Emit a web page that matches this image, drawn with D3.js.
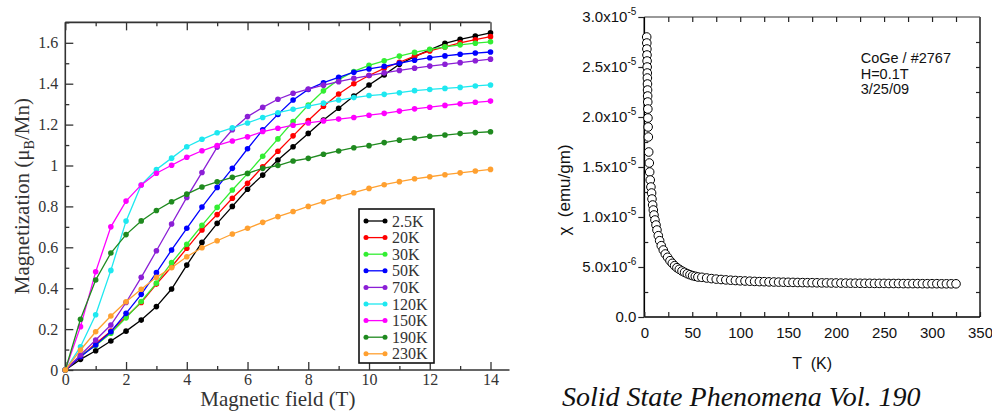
<!DOCTYPE html>
<html>
<head>
<meta charset="utf-8">
<script src="https://cdn.jsdelivr.net/npm/d3@7"></script>
<style>
  body { margin: 0; background: #fff; }
  svg { display: block; }
</style>
</head>
<body>
<svg id="chart"></svg>
<script>
'use strict';

// ---- left panel data: magnetization vs field ----
var fieldSteps = [0, 0.5, 1, 1.5, 2, 2.5, 3, 3.5, 4, 4.5, 5, 5.5, 6, 6.5, 7, 7.5, 8, 8.5, 9, 9.5, 10, 10.5, 11, 11.5, 12, 12.5, 13, 13.5, 14];
var tempLabels = ['2.5K', '20K', '30K', '50K', '70K', '120K', '150K', '190K', '230K'];
var tempColors = ['#000000', '#ff0000', '#33ee33', '#0000ff', '#8b1fd6', '#1ee8f0', '#ff00ff', '#1f8a1f', '#ffa030'];

var m2p5K = [0, 0.052, 0.094, 0.142, 0.19, 0.244, 0.31, 0.396, 0.513, 0.624, 0.717, 0.80, 0.884, 0.953, 1.027, 1.092, 1.157, 1.222, 1.28, 1.34, 1.394, 1.443, 1.495, 1.532, 1.565, 1.597, 1.617, 1.633, 1.649];
var m20K  = [0, 0.065, 0.13, 0.19, 0.26, 0.33, 0.42, 0.505, 0.595, 0.685, 0.76, 0.84, 0.913, 0.994, 1.07, 1.145, 1.22, 1.29, 1.35, 1.40, 1.44, 1.475, 1.505, 1.535, 1.56, 1.58, 1.60, 1.615, 1.63];
var m30K  = [0, 0.07, 0.12, 0.18, 0.255, 0.335, 0.425, 0.525, 0.615, 0.707, 0.795, 0.88, 0.96, 1.045, 1.13, 1.215, 1.295, 1.365, 1.42, 1.46, 1.49, 1.512, 1.535, 1.553, 1.568, 1.58, 1.59, 1.598, 1.605];
var m50K  = [0, 0.065, 0.122, 0.187, 0.277, 0.37, 0.476, 0.587, 0.693, 0.797, 0.893, 0.986, 1.082, 1.174, 1.25, 1.32, 1.372, 1.405, 1.431, 1.456, 1.472, 1.485, 1.50, 1.515, 1.527, 1.536, 1.544, 1.55, 1.555];
var m70K  = [0, 0.073, 0.147, 0.22, 0.33, 0.453, 0.583, 0.714, 0.844, 0.966, 1.09, 1.175, 1.239, 1.284, 1.324, 1.353, 1.374, 1.393, 1.41, 1.426, 1.44, 1.453, 1.465, 1.476, 1.486, 1.495, 1.503, 1.512, 1.52];
var m120K = [0, 0.114, 0.27, 0.487, 0.728, 0.905, 0.98, 1.036, 1.092, 1.128, 1.16, 1.184, 1.208, 1.235, 1.258, 1.275, 1.29, 1.305, 1.32, 1.332, 1.342, 1.348, 1.356, 1.366, 1.372, 1.377, 1.382, 1.389, 1.394];
var m150K = [0, 0.212, 0.48, 0.70, 0.826, 0.905, 0.962, 1.001, 1.04, 1.072, 1.098, 1.12, 1.14, 1.166, 1.182, 1.197, 1.208, 1.218, 1.227, 1.235, 1.246, 1.255, 1.266, 1.277, 1.285, 1.294, 1.302, 1.309, 1.315];
var m190K = [0, 0.248, 0.44, 0.572, 0.662, 0.729, 0.78, 0.823, 0.86, 0.895, 0.92, 0.942, 0.962, 0.986, 1.0, 1.022, 1.035, 1.055, 1.071, 1.087, 1.097, 1.112, 1.124, 1.133, 1.143, 1.149, 1.156, 1.161, 1.165];
var m230K = [0, 0.098, 0.187, 0.264, 0.334, 0.395, 0.453, 0.50, 0.554, 0.598, 0.632, 0.665, 0.693, 0.722, 0.75, 0.775, 0.80, 0.823, 0.847, 0.867, 0.888, 0.906, 0.921, 0.935, 0.945, 0.955, 0.964, 0.973, 0.981];
var magSeries = [m2p5K, m20K, m30K, m50K, m70K, m120K, m150K, m190K, m230K];

var fieldTicks = [0, 2, 4, 6, 8, 10, 12, 14];
var fieldMinor = [1, 3, 5, 7, 9, 11, 13];
var magTicks = [0, 0.2, 0.4, 0.6, 0.8, 1, 1.2, 1.4, 1.6];
var magTickLabels = ['0', '0.2', '0.4', '0.6', '0.8', '1', '1.2', '1.4', '1.6'];
var magMinor = [0.1, 0.3, 0.5, 0.7, 0.9, 1.1, 1.3, 1.5, 1.7];

// ---- right panel data: susceptibility vs temperature ----
var chiTemp = [2.5, 2.6, 2.7, 2.8, 2.9, 3.0, 3.1, 3.2, 3.3, 3.4, 3.5, 3.6, 3.7, 3.8, 4.0, 4.2, 4.6, 5.2, 5.6, 6.2, 6.9, 7.6, 8.0, 8.7, 9.4, 10.1, 11.1, 12.2, 13.2, 14.6, 16, 17.7, 19.8, 21.9, 24.3, 26.8, 29.2, 31.6, 34, 36.5, 39.3, 42, 44.8, 47.6, 50.4, 53.2, 55.9,
  60, 65, 70, 75, 80, 85, 90, 95, 100, 105, 110, 115, 120, 125, 130, 135, 140, 145, 150, 155, 160, 165, 170, 175, 180, 185, 190, 195, 200, 205, 210, 215, 220, 225, 230, 235, 240, 245, 250, 255, 260, 265, 270, 275, 280, 285, 290, 295, 300, 305, 310, 315, 320, 325];
var chiValue = [2.80e-5, 2.74e-5, 2.68e-5, 2.62e-5, 2.56e-5, 2.50e-5, 2.44e-5, 2.39e-5, 2.33e-5, 2.27e-5, 2.21e-5, 2.15e-5, 2.08e-5, 1.99e-5, 1.90e-5, 1.80e-5, 1.65e-5, 1.54e-5, 1.45e-5, 1.37e-5, 1.30e-5, 1.24e-5, 1.18e-5, 1.12e-5, 1.07e-5, 1.02e-5, 9.7e-6, 9.2e-6, 8.7e-6, 8.13e-6, 7.63e-6, 7.13e-6, 6.7e-6, 6.3e-6, 5.97e-6, 5.63e-6, 5.37e-6, 5.13e-6, 4.93e-6, 4.77e-6, 4.6e-6, 4.47e-6, 4.33e-6, 4.23e-6, 4.13e-6, 4.07e-6, 4.0e-6,
  3.97e-6, 3.90e-6, 3.84e-6, 3.79e-6, 3.75e-6, 3.71e-6, 3.68e-6, 3.65e-6, 3.62e-6, 3.60e-6, 3.58e-6, 3.56e-6, 3.54e-6, 3.53e-6, 3.51e-6, 3.50e-6, 3.49e-6, 3.48e-6, 3.47e-6, 3.46e-6, 3.45e-6, 3.44e-6, 3.43e-6, 3.43e-6, 3.42e-6, 3.41e-6, 3.41e-6, 3.40e-6, 3.40e-6, 3.39e-6, 3.39e-6, 3.38e-6, 3.38e-6, 3.37e-6, 3.37e-6, 3.37e-6, 3.36e-6, 3.36e-6, 3.36e-6, 3.35e-6, 3.35e-6, 3.35e-6, 3.34e-6, 3.34e-6, 3.34e-6, 3.34e-6, 3.33e-6, 3.33e-6, 3.33e-6, 3.33e-6, 3.32e-6, 3.32e-6, 3.32e-6, 3.32e-6];

var tempTicks = [0, 25, 50, 75, 100, 125, 150, 175, 200, 225, 250, 275, 300, 325, 350];
var chiTicks = [0, 5e-6, 1e-5, 1.5e-5, 2e-5, 2.5e-5, 3e-5];
var chiTickMant = ['0.0', '5.0x10', '1.0x10', '1.5x10', '2.0x10', '2.5x10', '3.0x10'];
var chiTickExp = ['', '-6', '-5', '-5', '-5', '-5', '-5'];
var chiMinor = [2.5e-6, 7.5e-6, 1.25e-5, 1.75e-5, 2.25e-5, 2.75e-5];
var noteLines = ['CoGe / #2767', 'H=0.1T', '3/25/09'];

var serif = '"Liberation Serif", "Times New Roman", serif';
var sans = '"Liberation Sans", Arial, sans-serif';

var svg = d3.select('#chart').attr('width', 992).attr('height', 411);

// ================= left panel =================
var xL = d3.scaleLinear().domain([0, 14]).range([65.3, 490.5]);
var yL = d3.scaleLinear().domain([0, 1.7]).range([370, 22.35]);
var axisCol = '#333';

function styleTicks(g, font, size) {
  g.select('.domain').remove();
  g.selectAll('line').attr('stroke', axisCol).attr('stroke-width', 1.3);
  g.attr('font-family', font).attr('font-size', size);
  g.selectAll('text').attr('fill', '#333');
}

var left = svg.append('g');

// frame
left.append('line')
  .attr('x1', xL(0)).attr('x2', xL(14) + 19).attr('y1', yL(0)).attr('y2', yL(0))
  .attr('stroke', axisCol).attr('stroke-width', 1.6);
left.append('line')
  .attr('x1', xL(0)).attr('x2', xL(14)).attr('y1', yL(1.7)).attr('y2', yL(1.7))
  .attr('stroke', axisCol).attr('stroke-width', 1.6);
left.append('line')
  .attr('x1', xL(0)).attr('x2', xL(0)).attr('y1', yL(0)).attr('y2', yL(1.7))
  .attr('stroke', axisCol).attr('stroke-width', 1.6);

left.append('g').attr('transform', 'translate(0,' + yL(0) + ')')
  .call(d3.axisBottom(xL).tickValues(fieldTicks).tickFormat(d3.format('d'))
    .tickSizeInner(-8).tickSizeOuter(0).tickPadding(4))
  .call(function(g) { styleTicks(g, serif, 16); });
left.append('g').attr('transform', 'translate(0,' + yL(0) + ')')
  .call(d3.axisBottom(xL).tickValues(fieldMinor).tickFormat('').tickSizeInner(-4).tickSizeOuter(0))
  .call(function(g) { styleTicks(g, serif, 16); });
left.append('g').attr('transform', 'translate(0,' + yL(1.7) + ')')
  .call(d3.axisTop(xL).tickValues(fieldTicks).tickFormat('').tickSizeInner(-8).tickSizeOuter(0))
  .call(function(g) { styleTicks(g, serif, 16); });
left.append('g').attr('transform', 'translate(0,' + yL(1.7) + ')')
  .call(d3.axisTop(xL).tickValues(fieldMinor).tickFormat('').tickSizeInner(-4).tickSizeOuter(0))
  .call(function(g) { styleTicks(g, serif, 16); });
left.append('g').attr('transform', 'translate(' + xL(0) + ',0)')
  .call(d3.axisLeft(yL).tickValues(magTicks).tickFormat(function(d, i) { return magTickLabels[i]; })
    .tickSizeInner(-8).tickSizeOuter(0).tickPadding(7))
  .call(function(g) { styleTicks(g, serif, 16); });
left.append('g').attr('transform', 'translate(' + xL(0) + ',0)')
  .call(d3.axisLeft(yL).tickValues(magMinor).tickFormat('').tickSizeInner(-4).tickSizeOuter(0))
  .call(function(g) { styleTicks(g, serif, 16); });

// axis titles
left.append('text')
  .attr('x', (xL(0) + xL(14)) / 2).attr('y', 406)
  .attr('text-anchor', 'middle').attr('font-family', serif).attr('font-size', 21).attr('fill', '#333')
  .text('Magnetic field (T)');
var yTitle = left.append('text')
  .attr('transform', 'translate(29,' + yL(0.85) + ') rotate(-90)')
  .attr('text-anchor', 'middle').attr('font-family', serif).attr('font-size', 21).attr('fill', '#333');
yTitle.append('tspan').text('Magnetization (\u03bc');
yTitle.append('tspan').attr('font-size', 14).attr('dy', 5).text('B');
yTitle.append('tspan').attr('dy', -5).text('/Mn)');

// curves
var line = d3.line()
  .x(function(d, i) { return xL(fieldSteps[i]); })
  .y(function(d) { return yL(d); });

magSeries.forEach(function(series, k) {
  var g = left.append('g');
  g.append('path').datum(series)
    .attr('d', line).attr('fill', 'none')
    .attr('stroke', tempColors[k]).attr('stroke-width', 1.3);
  g.selectAll('circle').data(series).enter().append('circle')
    .attr('cx', function(d, i) { return xL(fieldSteps[i]); })
    .attr('cy', function(d) { return yL(d); })
    .attr('r', 2.8)
    .attr('fill', tempColors[k]);
});

// legend
var legend = left.append('g').attr('transform', 'translate(359,209)');
legend.append('rect').attr('width', 75).attr('height', 154)
  .attr('fill', '#fff').attr('stroke', '#111').attr('stroke-width', 1.6);
tempLabels.forEach(function(lab, k) {
  var row = legend.append('g').attr('transform', 'translate(0,' + (12 + k * 16.6) + ')');
  row.append('line').attr('x1', 7).attr('x2', 26).attr('stroke', tempColors[k]).attr('stroke-width', 1.3);
  row.append('circle').attr('cx', 7).attr('r', 2.5).attr('fill', tempColors[k]);
  row.append('circle').attr('cx', 26).attr('r', 2.5).attr('fill', tempColors[k]);
  row.append('text').attr('x', 33).attr('dy', '0.35em')
    .attr('font-family', serif).attr('font-size', 16).attr('fill', '#333').text(lab);
});

// ================= right panel =================
var xR = d3.scaleLinear().domain([0, 350]).range([644.3, 980]);
var yR = d3.scaleLinear().domain([0, 3e-5]).range([317, 17]);
var right = svg.append('g');

right.append('line')
  .attr('x1', xR(0)).attr('x2', xR(350)).attr('y1', yR(3e-5)).attr('y2', yR(3e-5))
  .attr('stroke', '#777').attr('stroke-width', 1.6);
right.append('line')
  .attr('x1', xR(350)).attr('x2', xR(350)).attr('y1', yR(0)).attr('y2', yR(3e-5))
  .attr('stroke', '#555').attr('stroke-width', 2);
right.append('line')
  .attr('x1', xR(0)).attr('x2', xR(350)).attr('y1', yR(0)).attr('y2', yR(0))
  .attr('stroke', '#000').attr('stroke-width', 1.6);
right.append('line')
  .attr('x1', xR(0)).attr('x2', xR(0)).attr('y1', yR(0)).attr('y2', yR(3e-5))
  .attr('stroke', '#000').attr('stroke-width', 1.6);

function styleR(g) {
  g.select('.domain').remove();
  g.selectAll('line').attr('stroke', '#222').attr('stroke-width', 1.2);
  g.attr('font-family', sans).attr('font-size', 15);
  g.selectAll('text').attr('fill', '#111');
}

right.append('g').attr('transform', 'translate(0,' + yR(0) + ')')
  .call(d3.axisBottom(xR).tickValues(tempTicks)
    .tickFormat(function(d) { return d % 50 === 0 ? d : ''; })
    .tickSizeInner(-5).tickSizeOuter(0).tickPadding(10))
  .call(styleR);
right.append('g').attr('transform', 'translate(0,' + yR(3e-5) + ')')
  .call(d3.axisTop(xR).tickValues(tempTicks.slice(1, -1)).tickFormat('').tickSizeInner(-5).tickSizeOuter(0))
  .call(styleR);
right.append('g').attr('transform', 'translate(' + xR(350) + ',0)')
  .call(d3.axisRight(yR).tickValues(chiMinor.concat(chiTicks.slice(1, -1))).tickFormat('').tickSizeInner(-4).tickSizeOuter(0))
  .call(styleR);
right.append('g').attr('transform', 'translate(' + xR(0) + ',0)')
  .call(d3.axisLeft(yR).tickValues(chiMinor).tickFormat('').tickSizeInner(-4).tickSizeOuter(0))
  .call(styleR);
right.append('g').attr('transform', 'translate(' + xR(0) + ',0)')
  .call(d3.axisLeft(yR).tickValues(chiTicks).tickFormat('').tickSizeInner(6).tickSizeOuter(0).tickPadding(2))
  .call(styleR)
  .call(function(g) {
    g.selectAll('.tick text').each(function(d, i) {
      var t = d3.select(this);
      t.append('tspan').text(chiTickMant[i]);
      if (chiTickExp[i]) t.append('tspan').attr('dy', -7).attr('font-size', 10).text(chiTickExp[i]);
    });
  });

right.append('text')
  .attr('x', (xR(0) + xR(350)) / 2).attr('y', 369)
  .attr('text-anchor', 'middle').attr('font-family', sans).attr('font-size', 16)
  .style('white-space', 'pre').attr('fill', '#111')
  .text('T  (K)');
right.append('text')
  .attr('transform', 'translate(570,190) rotate(-90)')
  .attr('text-anchor', 'middle').attr('font-family', sans).attr('font-size', 17)
  .style('white-space', 'pre').attr('fill', '#111')
  .text('\u03c7  (emu/gm)');

right.selectAll('circle.chi').data(chiValue).enter().append('circle')
  .attr('class', 'chi')
  .attr('cx', function(d, i) { return xR(chiTemp[i]); })
  .attr('cy', function(d) { return yR(d); })
  .attr('r', 4.3)
  .attr('fill', '#fff').attr('stroke', '#000').attr('stroke-width', 1);

var note = right.append('text')
  .attr('font-family', sans).attr('font-size', 14.5).attr('fill', '#111');
noteLines.forEach(function(s, i) {
  note.append('tspan').attr('x', xR(225.6)).attr('y', yR(2.54e-5) + i * 15.5).text(s);
});

svg.append('text')
  .attr('x', 562).attr('y', 406)
  .attr('font-family', serif).attr('font-style', 'italic').attr('font-size', 28).attr('fill', '#111')
  .text('Solid State Phenomena Vol. 190');
</script>
</body>
</html>
